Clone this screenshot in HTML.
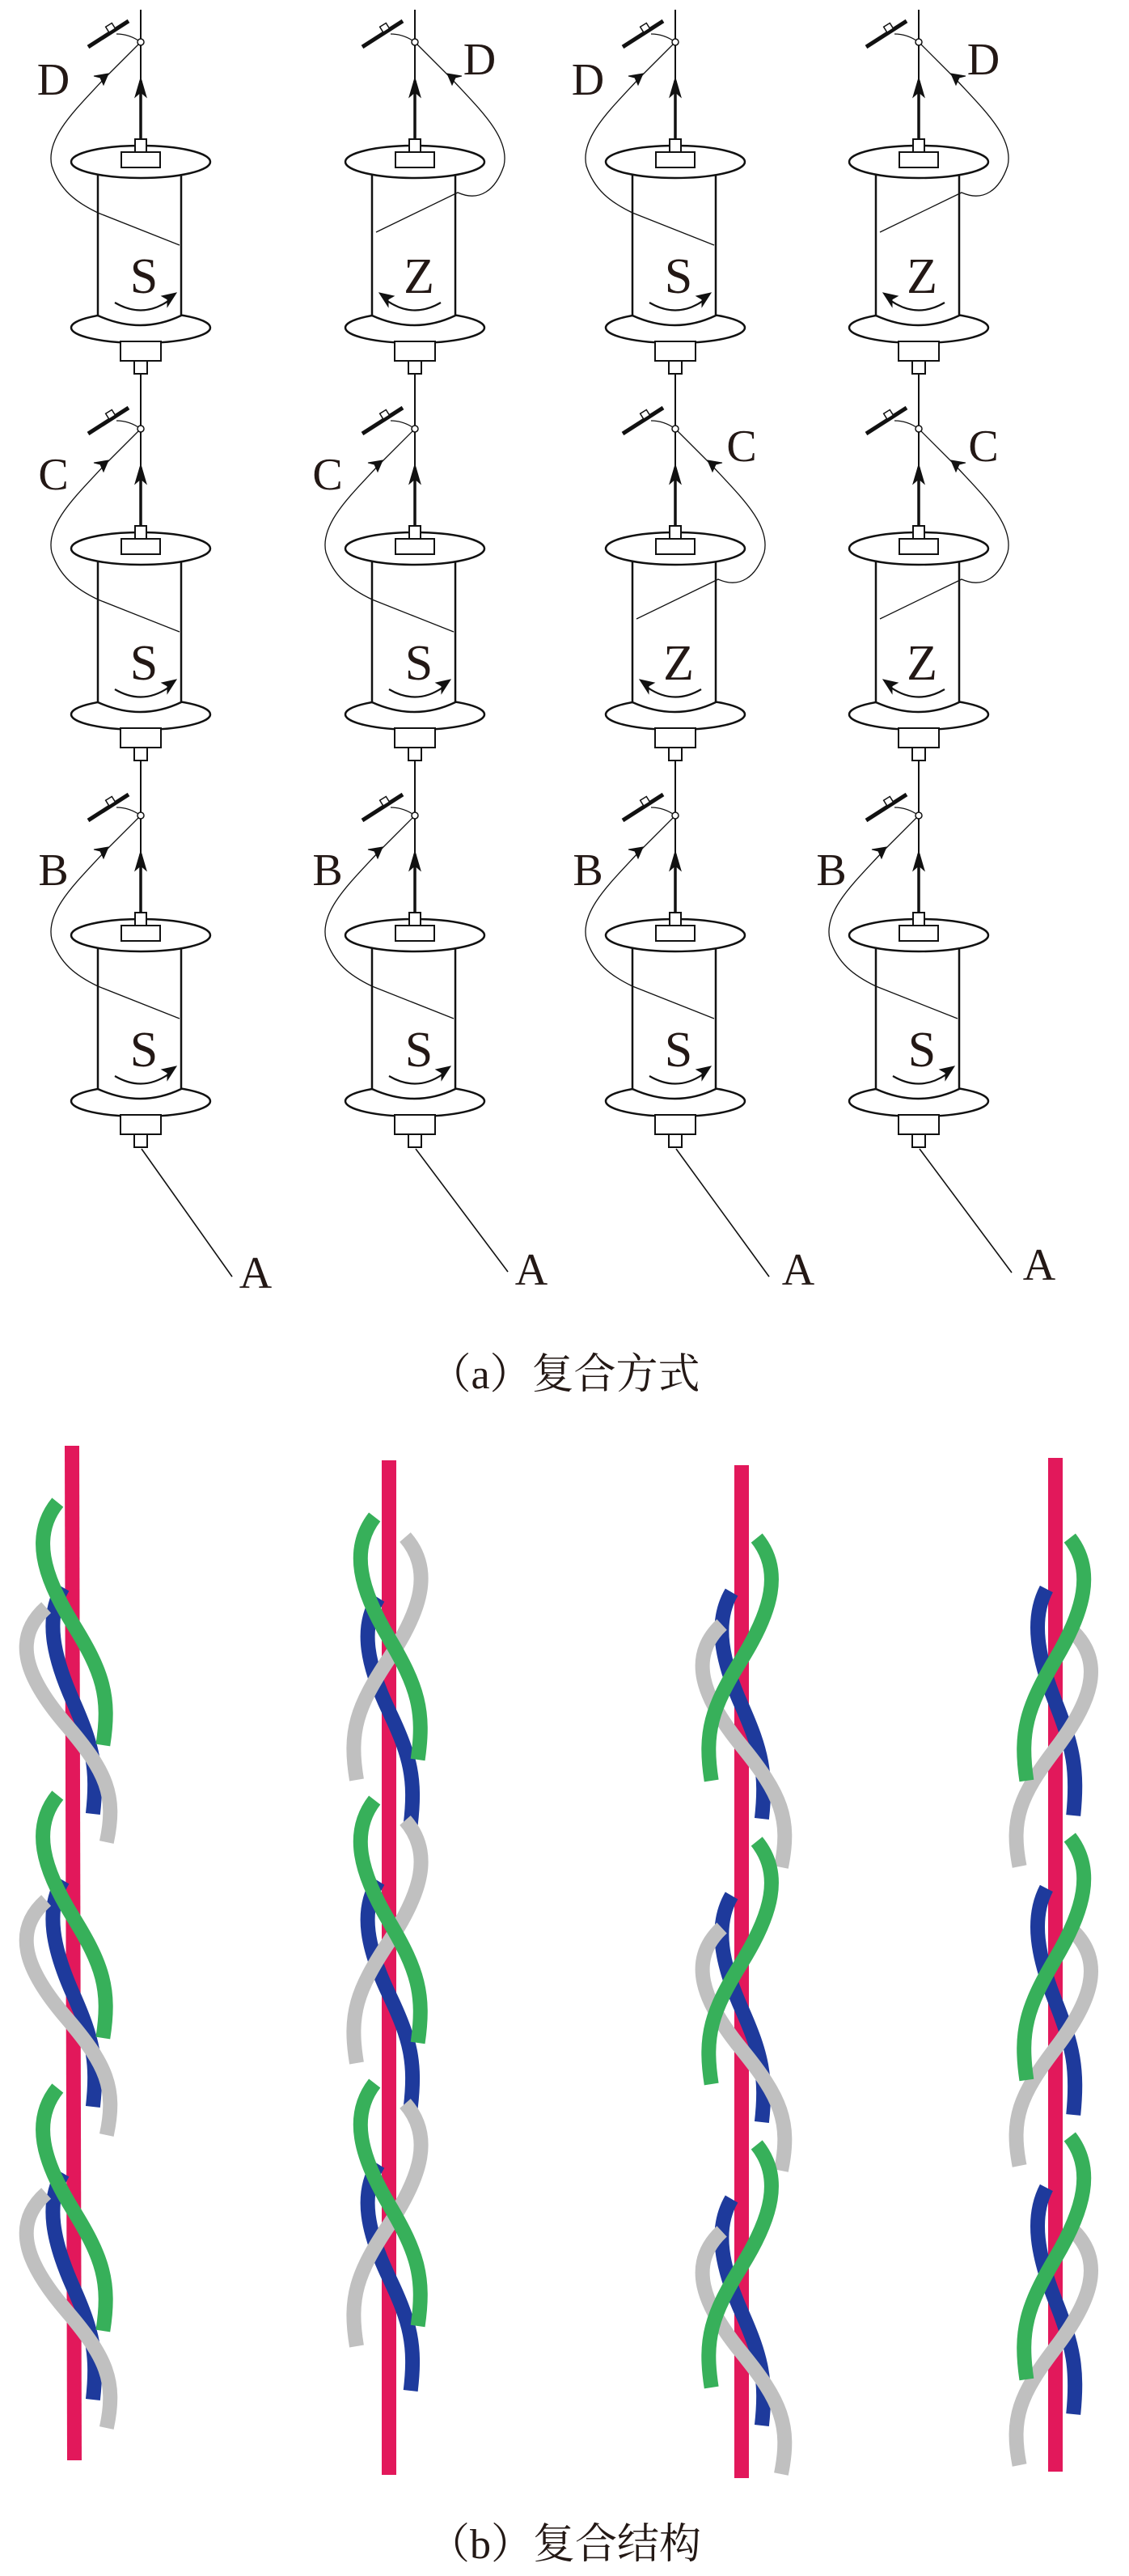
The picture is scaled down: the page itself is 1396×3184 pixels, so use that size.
<!DOCTYPE html>
<html><head><meta charset="utf-8">
<style>
html,body{margin:0;padding:0;background:#fff;}
svg{display:block;}
.lbl{font-family:"Liberation Serif",serif;fill:#231815;}
.cap{font-family:"Liberation Serif","Noto Serif CJK SC",serif;fill:#231815;}
</style></head>
<body>
<svg id="s" width="1396" height="3184" viewBox="0 0 1396 3184" xmlns="http://www.w3.org/2000/svg">
<rect width="1396" height="3184" fill="#fff"/>
<g id="bob"></g>
<g id="str"></g>
<g class="lbl" font-family="Liberation Serif, serif" font-size="56" text-anchor="middle">
<text x="66" y="117">D</text>
<text x="593" y="92">D</text>
<text x="727" y="117">D</text>
<text x="1216" y="92">D</text>
<text x="66" y="605">C</text>
<text x="405" y="605">C</text>
<text x="917" y="570">C</text>
<text x="1216" y="570">C</text>
<text x="66" y="1094">B</text>
<text x="405" y="1094">B</text>
<text x="727" y="1094">B</text>
<text x="1028" y="1094">B</text>
<text x="316" y="1592">A</text>
<text x="657" y="1588">A</text>
<text x="987" y="1588">A</text>
<text x="1285" y="1582">A</text>
</g>
<g class="lbl" font-family="Liberation Serif, serif" font-size="62" text-anchor="middle">
<text x="178" y="362">S</text><text x="518" y="362">Z</text><text x="839" y="362">S</text><text x="1140" y="362">Z</text>
<text x="178" y="840">S</text><text x="518" y="840">S</text><text x="839" y="840">Z</text><text x="1140" y="840">Z</text>
<text x="178" y="1318">S</text><text x="518" y="1318">S</text><text x="839" y="1318">S</text><text x="1140" y="1318">S</text>
</g>
<text class="cap" x="698" y="1716" font-size="52" text-anchor="middle">（a）复合方式</text>
<text class="cap" x="698" y="3162" font-size="52" text-anchor="middle">（b）复合结构</text>
</svg>
<script>
(function(){
var NS="http://www.w3.org/2000/svg";
function el(p,t,a){var e=document.createElementNS(NS,t);for(var k in a)e.setAttribute(k,a[k]);p.appendChild(e);return e;}
var bob=document.getElementById('bob');
var cols=[174,513,835,1136];
var rows=[0,478,956];
var dirs=[["L","R","L","R"],["L","L","R","R"],["L","L","L","L"]];
var A=[[287,1578],[628,1572],[951,1578],[1251,1573]];
for(var c=0;c<4;c++){
  el(bob,'line',{x1:cols[c],y1:12,x2:cols[c],y2:1418,stroke:'#111','stroke-width':2});
  el(bob,'line',{x1:cols[c]+1,y1:1420,x2:A[c][0],y2:A[c][1],stroke:'#111','stroke-width':1.6});
}
for(var r=0;r<3;r++)for(var c=0;c<4;c++){
  var g=el(bob,'g',{transform:'translate('+cols[c]+','+rows[r]+')',fill:'none',stroke:'#111'});
  var R=dirs[r][c]=="R";
  el(g,'line',{x1:0,y1:100,x2:0,y2:172,'stroke-width':3.5});
  el(g,'path',{d:'M0,96 L-7,120 L0,114 L7,120 Z',fill:'#111','stroke-width':1});
  el(g,'line',{x1:-65,y1:58,x2:-15,y2:26,'stroke-width':5});
  el(g,'rect',{x:-42,y:30,width:9,height:8,fill:'#fff','stroke-width':1.5,transform:'rotate(-32,-37,34)'});
  el(g,'path',{d:'M-30,42 Q-14,42 0,52','stroke-width':1.2});
  el(g,'ellipse',{cx:0,cy:405,rx:86,ry:19,fill:'#fff','stroke-width':2.5});
  el(g,'path',{d:'M-53,212 L-53,390 Q0,414 50,390 L50,212',fill:'#fff','stroke-width':2.5});
  el(g,'ellipse',{cx:0,cy:200,rx:86,ry:20,fill:'#fff','stroke-width':2.5});
  el(g,'rect',{x:-7,y:172,width:14,height:16,fill:'#fff','stroke-width':2});
  el(g,'rect',{x:-24,y:188,width:48,height:19,fill:'#fff','stroke-width':2});
  el(g,'rect',{x:-25,y:422,width:50,height:24,fill:'#fff','stroke-width':2});
  el(g,'rect',{x:-8,y:446,width:16,height:16,fill:'#fff','stroke-width':2});
  var m=R?-1:1;
  var d='M0,52 L'+(-45*m)+',97 C'+(-80*m)+',135 '+(-118*m)+',170 '+(-110*m)+',205 C'+(-100*m)+',235 '+(-80*m)+',250 '+(-53*m)+','+(R?238:263)+' L'+(48*m)+','+(R?287:303);
  el(g,'path',{d:d,'stroke-width':1.3});
  var tx=-40*m,ty=91;
  el(g,'path',{d:'M'+tx+','+ty+' L'+(tx-18*m)+','+(ty+3)+' L'+(tx-10*m)+','+(ty+5)+' L'+(tx-6*m)+','+(ty+14)+' Z',fill:'#111','stroke-width':1});
  el(g,'circle',{cx:0,cy:52,r:4,fill:'#fff','stroke-width':1.5});
  var sm=R?-1:1;
  el(g,'path',{d:'M'+(-32*sm)+',374 Q'+(2*sm)+',394 '+(34*sm)+',372','stroke-width':2.2});
  el(g,'path',{d:'M'+(44*sm)+',362 L'+(26*sm)+',366 L'+(33*sm)+',370 L'+(33*sm)+',379 Z',fill:'#111','stroke-width':1});
}
var str=document.getElementById('str');
var reds=[[89,1787,92,3041],[481,1805,481,3059],[917,1811,917,3063],[1305,1802,1305,3055]];
var C={g:'#37b05a',b:'#1e3a9c',y:'#c0c0c0'};
var spec=[
 {cx:90,y0:1857,P:362,s:[['b',105,-1,28,280,0],['y',130,-1,56,290,-8],['g',0,-1,42,300,0]]},
 {cx:481,y0:1875,P:350,s:[['b',100,-1,30,280,0],['y',25,1,45,300,0],['g',0,-1,40,300,0]]},
 {cx:917,y0:1901,P:375,s:[['b',67,-1,28,280,0],['y',107,-1,55,300,0],['g',0,1,42,300,0]]},
 {cx:1305,y0:1901,P:370,s:[['b',63,-1,25,280,0],['y',116,1,50,290,0],['g',0,1,40,300,0]]}
];
reds.forEach(function(r){el(str,'line',{x1:r[0],y1:r[1],x2:r[2],y2:r[3],stroke:'#e2185b','stroke-width':18});});
spec.forEach(function(col){
  for(var k=0;k<3;k++){
    col.s.forEach(function(t){
      var s=t[2],a=t[3]/45,L=t[4]/300;
      var x0=col.cx+t[5],y=col.y0+k*col.P+t[1];
      if(y+t[4]>3110) return;
      function X(v){return (x0+v*s*a).toFixed(1);}
      function Y(v){return (y+v*L).toFixed(1);}
      var d='M'+X(20)+','+Y(0)+' C'+X(55)+','+Y(40)+' '+X(40)+','+Y(90)+' '+X(0)+','+Y(150)+' C'+X(-40)+','+Y(210)+' '+X(-50)+','+Y(240)+' '+X(-40)+','+Y(300);
      el(str,'path',{d:d,fill:'none',stroke:C[t[0]],'stroke-width':18});
    });
  }
});
})();
</script>
</body></html>
